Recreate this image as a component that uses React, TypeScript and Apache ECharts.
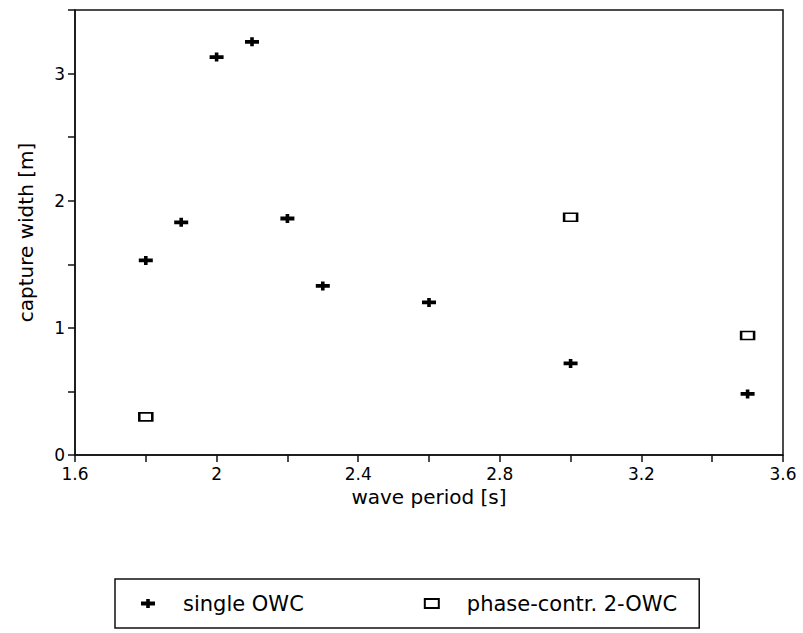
import React, { useEffect, useRef } from "react";
import * as echarts from "echarts";

// Wave period [s] and capture width [m] for the two device layouts
const singlePeriods = [1.8, 1.9, 2.0, 2.1, 2.2, 2.3, 2.6, 3.0, 3.5];
const singleWidths = [1.53, 1.83, 3.13, 3.25, 1.86, 1.33, 1.2, 0.72, 0.48];

const phasePeriods = [1.8, 3.0, 3.5];
const phaseWidths = [0.3, 1.87, 0.94];

const seriesNames = ["single OWC", "phase-contr. 2-OWC"];

const FONT = "DejaVu Sans";
const INK = "#111";

// thick plus sign: wide horizontal bar crossed by a short vertical bar
const PLUS = "path://M0,2.6H14V6.4H0Z M5.2,0H8.8V9H5.2Z";

function pairs(xs: number[], ys: number[]) {
  return xs.map((x, i) => [x, ys[i]]);
}

export default function App() {
  const ref = useRef<HTMLDivElement>(null);

  useEffect(() => {
    if (!ref.current) return;
    const chart = echarts.init(ref.current, undefined, { renderer: "svg" });
    chart.setOption({
      animation: false,
      backgroundColor: "#fff",
      grid: {
        left: 75,
        right: 20,
        top: 10,
        bottom: 178,
        show: true,
        borderColor: INK,
        borderWidth: 1.5,
      },
      legend: {
        left: 115,
        top: 579,
        orient: "horizontal",
        padding: [14, 22, 14, 26],
        itemGap: 120,
        itemWidth: 14,
        itemHeight: 9,
        borderColor: INK,
        borderWidth: 1.5,
        textStyle: {
          fontFamily: FONT,
          fontSize: 21,
          color: "#000",
          padding: [0, 0, 0, 23],
        },
        data: seriesNames,
      },
      xAxis: {
        type: "value",
        min: 1.6,
        max: 3.6,
        interval: 0.2,
        name: "wave period [s]",
        nameLocation: "middle",
        nameGap: 29,
        nameTextStyle: { fontFamily: FONT, fontSize: 20, color: "#000" },
        axisLine: { lineStyle: { color: INK, width: 1.5 } },
        axisTick: { inside: false, length: 7, lineStyle: { color: INK, width: 1.5 } },
        axisLabel: {
          fontFamily: FONT,
          fontSize: 17,
          color: "#000",
          margin: 10,
          formatter: (v: number) =>
            Math.round(v * 10) % 4 === 0 ? String(Number(v.toFixed(1))) : "",
        },
        splitLine: { show: false },
      },
      yAxis: {
        type: "value",
        min: 0,
        max: 3.5,
        interval: 0.5,
        name: "capture width [m]",
        nameLocation: "middle",
        nameGap: 39,
        nameTextStyle: { fontFamily: FONT, fontSize: 20, color: "#000" },
        axisLine: { lineStyle: { color: INK, width: 1.5 } },
        axisTick: { inside: false, length: 7, lineStyle: { color: INK, width: 1.5 } },
        axisLabel: {
          fontFamily: FONT,
          fontSize: 17,
          color: "#000",
          margin: 10,
          formatter: (v: number) =>
            Math.abs(v - Math.round(v)) < 1e-6 && v < 3.4 ? String(Math.round(v)) : "",
        },
        splitLine: { show: false },
      },
      series: [
        {
          name: seriesNames[0],
          type: "scatter",
          symbol: PLUS,
          symbolSize: [14, 9],
          itemStyle: { color: "#000", opacity: 1 },
          data: pairs(singlePeriods, singleWidths),
        },
        {
          name: seriesNames[1],
          type: "scatter",
          symbol: "rect",
          symbolSize: [13, 8],
          itemStyle: { color: "#fff", borderColor: "#000", borderWidth: 2, opacity: 1 },
          data: pairs(phasePeriods, phaseWidths),
        },
      ],
    });
    return () => chart.dispose();
  }, []);

  return (
    <div
      ref={ref}
      style={{ position: "absolute", left: 0, top: 0, width: 803, height: 633 }}
    />
  );
}
